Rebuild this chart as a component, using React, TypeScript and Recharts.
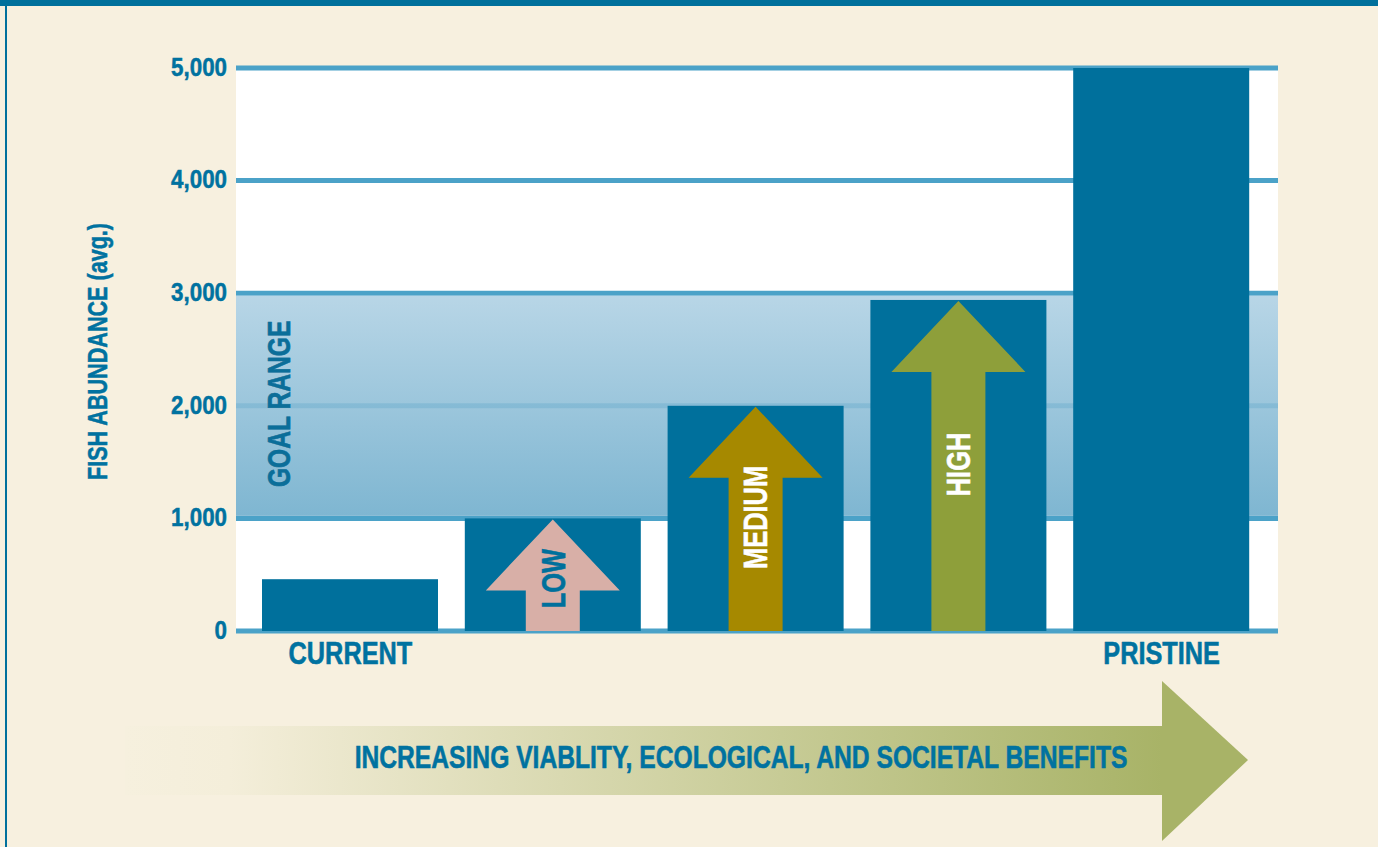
import React from 'react';
import { BarChart, Bar, XAxis, YAxis, CartesianGrid, ReferenceArea } from 'recharts';

// Average fish abundance per scenario
const categories = ['CURRENT', 'LOW', 'MEDIUM', 'HIGH', 'PRISTINE'];
const abundance = [460, 1000, 2000, 2940, 5000];
const axisLabels = ['CURRENT', '', '', '', 'PRISTINE'];
const arrowLabels = ['', 'LOW', 'MEDIUM', 'HIGH', ''];
const yTicks = [0, 1000, 2000, 3000, 4000, 5000];
const goalRange = [1000, 3000];

const data = categories.map((c, i) => ({
  category: c,
  value: abundance[i],
  arrowLabel: arrowLabels[i],
}));

const BLUE = '#00709C';
const TEXT_BLUE = '#0072A0';
const GRID = '#4BA2C8';
const CREAM = '#F7F0DF';
const FONT = '"Liberation Sans", Arial, sans-serif';
const NARROW = 0.77; // fake a condensed face
const X_PAD = { left: 13, right: 15 };

const arrowStyle: Record<string, { fill: string; text: string }> = {
  LOW: { fill: '#D8AFA7', text: BLUE },
  MEDIUM: { fill: '#A68900', text: '#FFFFFF' },
  HIGH: { fill: '#8E9F3A', text: '#FFFFFF' },
};

const BarWithArrow = (props: any) => {
  const { x, y, width, height, payload } = props;
  const style = arrowStyle[payload.arrowLabel];
  const cx = x + width / 2;
  const bottom = y + height;
  const head = y + 72;
  return (
    <g>
      <rect x={x} y={y} width={width} height={height} fill={BLUE} />
      {style && (
        <g>
          <polygon
            points={`${cx},${y + 1} ${cx + 67},${head} ${cx + 27},${head} ${cx + 27},${bottom} ${cx - 27},${bottom} ${cx - 27},${head} ${cx - 67},${head}`}
            fill={style.fill}
          />
          <text
            transform={`translate(${cx},${y + height / 2 + (height < 150 ? 4 : -1)}) rotate(-90) scale(${NARROW},1)`}
            textAnchor="middle"
            dy="0.36em"
            fill={style.text}
            stroke={style.text}
            strokeWidth={0.6}
            fontFamily={FONT}
            fontWeight="bold"
            fontSize={33}
          >
            {payload.arrowLabel}
          </text>
        </g>
      )}
    </g>
  );
};

const GoalBand = (props: any) => {
  const { x, y, width, height } = props;
  const left = x - X_PAD.left;
  return (
    <g>
      <defs>
        <linearGradient id="goalFill" x1="0" y1="0" x2="0" y2="1">
          <stop offset="0%" stopColor="#AED0E3" />
          <stop offset="100%" stopColor="#6DACCB" />
        </linearGradient>
      </defs>
      <rect
        x={left}
        y={y + 2.5}
        width={width + X_PAD.left + X_PAD.right}
        height={height - 5}
        fill="url(#goalFill)"
        fillOpacity={0.88}
      />
      <text
        transform={`translate(${left + 42},${y + height / 2 - 2}) rotate(-90) scale(${NARROW},1)`}
        textAnchor="middle"
        dy="0.36em"
        fill="#0B6E99"
        stroke="#0B6E99"
        strokeWidth={0.6}
        fontFamily={FONT}
        fontWeight="bold"
        fontSize={32}
      >
        GOAL RANGE
      </text>
    </g>
  );
};

const CategoryTick = (props: any) => {
  const { x, y, payload } = props;
  const label = axisLabels[categories.indexOf(payload.value)];
  if (!label) return null;
  return (
    <text
      transform={`translate(${x},${y + 31}) scale(0.79,1)`}
      textAnchor="middle"
      fill={TEXT_BLUE}
      stroke={TEXT_BLUE}
      strokeWidth={0.6}
      fontFamily={FONT}
      fontWeight="bold"
      fontSize={32}
    >
      {label}
    </text>
  );
};

const ValueTick = (props: any) => {
  const { x, y, payload } = props;
  return (
    <text
      transform={`translate(${x},${y}) scale(0.86,1)`}
      textAnchor="end"
      dy="0.3em"
      fill={TEXT_BLUE}
      stroke={TEXT_BLUE}
      strokeWidth={0.5}
      fontFamily={FONT}
      fontWeight="bold"
      fontSize={26}
    >
      {Number(payload.value).toLocaleString('en-US')}
    </text>
  );
};

const YTitle = (props: any) => {
  const { viewBox } = props;
  const cy = viewBox.y + viewBox.height / 2 + 2;
  return (
    <text
      transform={`translate(${viewBox.x + 11},${cy}) rotate(-90) scale(0.8,1)`}
      textAnchor="middle"
      dy="0.36em"
      fill={TEXT_BLUE}
      stroke={TEXT_BLUE}
      strokeWidth={0.5}
      fontFamily={FONT}
      fontWeight="bold"
      fontSize={27}
    >
      FISH ABUNDANCE (avg.)
    </text>
  );
};

const App: React.FC = () => {
  return (
    <div style={{ position: 'absolute', left: 0, top: 0, width: 1378, height: 847, background: CREAM, overflow: 'hidden' }}>
      <div style={{ position: 'absolute', left: 0, top: 0, width: 1378, height: 6, background: BLUE }} />
      <div style={{ position: 'absolute', left: 5, top: 0, width: 2, height: 847, background: BLUE }} />

      {/* benefits arrow along the bottom */}
      <svg width={1378} height={847} style={{ position: 'absolute', left: 0, top: 0 }}>
        <defs>
          <linearGradient id="benefitFill" x1="125" y1="0" x2="1162" y2="0" gradientUnits="userSpaceOnUse">
            <stop offset="0%" stopColor="#F6F0DE" />
            <stop offset="10%" stopColor="#F4EEDA" />
            <stop offset="100%" stopColor="#A8B367" />
          </linearGradient>
        </defs>
        <rect x={125} y={726} width={1038} height={69} fill="url(#benefitFill)" />
        <polygon points="1162,681 1248,760 1162,841" fill="#A8B367" />
        <text
          transform={`translate(741,768) scale(${NARROW},1)`}
          textAnchor="middle"
          fill={TEXT_BLUE}
          stroke={TEXT_BLUE}
          strokeWidth={0.6}
          fontFamily={FONT}
          fontWeight="bold"
          fontSize={32}
        >
          INCREASING VIABLITY, ECOLOGICAL, AND SOCIETAL BENEFITS
        </text>
      </svg>

      <div style={{ position: 'absolute', left: 0, top: 0 }}>
        <BarChart width={1378} height={847} data={data} margin={{ top: 68, right: 100, left: 86, bottom: 176 }}>
          <CartesianGrid vertical={false} stroke={GRID} strokeWidth={5} fill="#FFFFFF" fillOpacity={1} />
          <ReferenceArea y1={goalRange[0]} y2={goalRange[1]} shape={GoalBand} ifOverflow="visible" />
          <XAxis
            dataKey="category"
            axisLine={false}
            tickLine={false}
            tickSize={0}
            height={40}
            interval={0}
            padding={X_PAD}
            tick={<CategoryTick />}
          />
          <YAxis
            width={150}
            domain={[0, 5000]}
            ticks={yTicks}
            axisLine={false}
            tickLine={false}
            tickSize={0}
            tickMargin={9}
            tick={<ValueTick />}
            label={<YTitle />}
          />
          <Bar dataKey="value" barSize={176} shape={<BarWithArrow />} isAnimationActive={false} />
        </BarChart>
      </div>
    </div>
  );
};

export default App;
